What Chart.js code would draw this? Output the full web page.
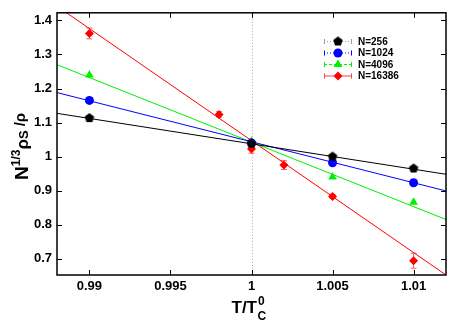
<!DOCTYPE html>
<html>
<head>
<meta charset="utf-8">
<script src="https://cdn.jsdelivr.net/npm/chart.js@4.4.1/dist/chart.umd.min.js"></script>
<style>
  html, body { margin: 0; padding: 0; background: #fff; }
  #wrap { width: 463px; height: 324px; }
</style>
</head>
<body>
<div id="wrap"><canvas id="chart"></canvas></div>
<script>
// ---- data ----
const temps = [0.99, 1.0, 1.005, 1.01];
const n256 = [1.113, 1.038, 1.0, 0.965];
const n1024 = [1.165, 1.04, 0.982, 0.923];
const n4096 = [1.24, 1.045, 0.94, 0.866];

const tempsRed = [0.99, 0.998, 1.0, 1.002, 1.005, 1.01];
const n16386 = [1.362, 1.124, 1.022, 0.975, 0.883, 0.694];
const errRed = [0.016, 0.008, 0.012, 0.013, 0.006, 0.022];

// fitted lines (ends at the plot edges)
const fitX = [0.988, 1.012];
const fit256 = [1.127, 0.948];
const fit1024 = [1.188, 0.899];
const fit4096 = [1.27, 0.815];
const fit16386 = [1.442, 0.652];

const xTicks = [0.99, 0.995, 1.0, 1.005, 1.01];
const xLabels = ["0.99", "0.995", "1", "1.005", "1.01"];
const yTicks = [0.7, 0.8, 0.9, 1.0, 1.1, 1.2, 1.3, 1.4];
const yLabels = ["0.7", "0.8", "0.9", "1", "1.1", "1.2", "1.3", "1.4"];

const xMin = 0.988, xMax = 1.012;
const yMin = 0.652, yMax = 1.4225;

const legendNames = ["N=256", "N=1024", "N=4096", "N=16386"];
const colors = ["#000000", "#0000ff", "#00f000", "#ff0000"];

// pentagon marker for N=256
function pentagon(r, color) {
  const c = document.createElement("canvas");
  c.width = c.height = r * 2 + 2;
  const g = c.getContext("2d");
  g.fillStyle = color;
  g.beginPath();
  for (let i = 0; i < 5; i++) {
    const a = -Math.PI / 2 + i * 2 * Math.PI / 5;
    const px = r + 1 + r * Math.cos(a), py = r + 1 + r * Math.sin(a);
    i ? g.lineTo(px, py) : g.moveTo(px, py);
  }
  g.closePath();
  g.fill();
  return c;
}
const pentaImg = pentagon(5, "#000000");

const pts = (xs, ys) => xs.map((x, i) => ({ x: x, y: ys[i] }));

function fitSet(ys, color) {
  return {
    data: pts(fitX, ys), showLine: true, borderColor: color, borderWidth: 1,
    pointRadius: 0, fill: false, order: 2
  };
}

const markers = [
  { pointStyle: pentaImg, radius: 5 },
  { pointStyle: "circle", radius: 4.5 },
  { pointStyle: "triangle", radius: 5 },
  { pointStyle: "rectRot", radius: 4.5 }
];

function markSet(xs, ys, i) {
  return {
    data: pts(xs, ys), showLine: false, pointStyle: markers[i].pointStyle,
    pointRadius: markers[i].radius, pointBackgroundColor: colors[i],
    pointBorderColor: colors[i], pointBorderWidth: 0, order: 1
  };
}

// error bars, frame, inward ticks, titles, legend
const decor = {
  id: "decor",
  beforeDatasetsDraw(chart) {
    const { ctx, chartArea: a, scales: { x, y } } = chart;
    ctx.save();
    // dotted line at T = Tc
    ctx.strokeStyle = "#aaaaaa";
    ctx.lineWidth = 1;
    ctx.setLineDash([1, 2]);
    const px = Math.round(x.getPixelForValue(1.0)) + 0.5;
    ctx.beginPath();
    ctx.moveTo(px, a.top); ctx.lineTo(px, a.bottom);
    ctx.stroke();
    ctx.setLineDash([]);
    // red error bars
    ctx.strokeStyle = "#ff6060";
    tempsRed.forEach((t, i) => {
      const ex = x.getPixelForValue(t);
      const y1 = y.getPixelForValue(n16386[i] + errRed[i]);
      const y2 = y.getPixelForValue(n16386[i] - errRed[i]);
      ctx.beginPath();
      ctx.moveTo(ex, y1); ctx.lineTo(ex, y2);
      ctx.moveTo(ex - 3, y1); ctx.lineTo(ex + 3, y1);
      ctx.moveTo(ex - 3, y2); ctx.lineTo(ex + 3, y2);
      ctx.stroke();
    });
    ctx.restore();
  },
  afterDraw(chart) {
    const { ctx, chartArea: a, scales: { x, y } } = chart;
    ctx.save();
    ctx.strokeStyle = "#000";
    ctx.lineWidth = 1.5;
    ctx.strokeRect(a.left, a.top, a.right - a.left, a.bottom - a.top);
    ctx.lineWidth = 1;
    ctx.beginPath();
    xTicks.forEach(v => {
      const p = Math.round(x.getPixelForValue(v)) + 0.5;
      ctx.moveTo(p, a.bottom); ctx.lineTo(p, a.bottom - 5);
      ctx.moveTo(p, a.top); ctx.lineTo(p, a.top + 5);
    });
    yTicks.forEach(v => {
      const p = Math.round(y.getPixelForValue(v)) + 0.5;
      ctx.moveTo(a.left, p); ctx.lineTo(a.left + 5, p);
      ctx.moveTo(a.right, p); ctx.lineTo(a.right - 5, p);
    });
    ctx.stroke();

    // x title: T/T_C^0
    ctx.fillStyle = "#000";
    ctx.textBaseline = "alphabetic";
    ctx.font = "bold 17px 'Liberation Sans', Arial, sans-serif";
    const cx = (a.left + a.right) / 2 - 20;
    ctx.fillText("T/T", cx, 313);
    const w = ctx.measureText("T/T").width;
    ctx.font = "bold 12px 'Liberation Sans', Arial, sans-serif";
    ctx.fillText("0", cx + w + 1, 305);
    ctx.fillText("C", cx + w + 0.5, 320);

    // y title: N^{1/3} rho_S / rho
    ctx.translate(28, (a.top + a.bottom) / 2 - 4);
    ctx.rotate(-Math.PI / 2);
    let tx = -40;
    const part = (txt, size, dy) => {
      ctx.font = "bold " + size + "px 'Liberation Sans', Arial, sans-serif";
      ctx.fillText(txt, tx, dy);
      tx += ctx.measureText(txt).width;
    };
    part("N", 19, 0);
    part("1/3", 12, -8);
    part("\u03C1", 17, 0);
    part("S", 13, 0);
    tx += 4;
    part("/\u03C1", 15, -3);
    ctx.setTransform(1, 0, 0, 1, 0, 0);

    // legend
    const rowY = [41, 52.5, 64, 75.5];
    const dashes = [[1, 2], [1, 2], [3, 2], []];
    const lineCols = ["#999999", "#0000ff", "#00f000", "#ff4040"];
    rowY.forEach((ry, i) => {
      ctx.strokeStyle = lineCols[i];
      ctx.lineWidth = 1;
      ctx.setLineDash(dashes[i]);
      ctx.beginPath();
      ctx.moveTo(324, ry + 0.5); ctx.lineTo(352, ry + 0.5);
      ctx.stroke();
      ctx.setLineDash([]);
      ctx.beginPath();
      ctx.moveTo(324.5, ry - 2); ctx.lineTo(324.5, ry + 3);
      ctx.moveTo(351.5, ry - 2); ctx.lineTo(351.5, ry + 3);
      ctx.stroke();
      ctx.fillStyle = colors[i];
      Chart.helpers.drawPoint(ctx, {
        pointStyle: markers[i].pointStyle, radius: markers[i].radius,
        borderWidth: 0, rotation: 0
      }, 338, ry + 0.5);
      ctx.fillStyle = "#000";
      ctx.font = "bold 10px 'Liberation Sans', Arial, sans-serif";
      ctx.textBaseline = "middle";
      ctx.fillText(legendNames[i], 358, ry + 1);
    });
    ctx.restore();
  }
};

new Chart(document.getElementById("chart"), {
  type: "scatter",
  data: {
    datasets: [
      fitSet(fit256, colors[0]),
      fitSet(fit1024, colors[1]),
      fitSet(fit4096, colors[2]),
      fitSet(fit16386, colors[3]),
      markSet(temps, n256, 0),
      markSet(temps, n1024, 1),
      markSet(temps, n4096, 2),
      markSet(tempsRed, n16386, 3)
    ]
  },
  options: {
    responsive: true,
    maintainAspectRatio: false,
    animation: false,
    layout: { padding: { top: 11, right: 17, left: 0, bottom: 0 } },
    plugins: { legend: { display: false }, tooltip: { enabled: false } },
    scales: {
      x: {
        type: "linear", min: xMin, max: xMax,
        afterBuildTicks: s => { s.ticks = xTicks.map(v => ({ value: v })); },
        afterFit: s => { s.height = 49; },
        ticks: {
          callback: (v, i) => xLabels[i],
          color: "#000", padding: 4, maxRotation: 0,
          font: { family: "'Liberation Sans', Arial, sans-serif", size: 13, weight: "bold" }
        },
        grid: { display: false, drawTicks: false },
        border: { display: false }
      },
      y: {
        type: "linear", min: yMin, max: yMax,
        afterBuildTicks: s => { s.ticks = yTicks.map(v => ({ value: v })); },
        afterFit: s => { s.width = 57; },
        ticks: {
          callback: (v, i) => yLabels[i],
          color: "#000", padding: 5,
          font: { family: "'Liberation Sans', Arial, sans-serif", size: 13, weight: "bold" }
        },
        grid: { display: false, drawTicks: false },
        border: { display: false }
      }
    }
  },
  plugins: [decor]
});
</script>
</body>
</html>
